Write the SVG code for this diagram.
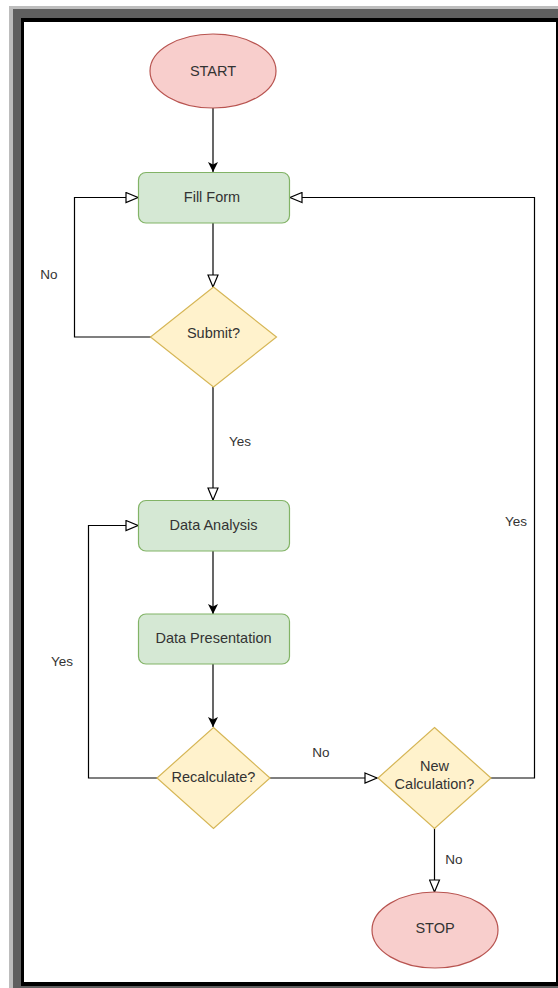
<svg xmlns="http://www.w3.org/2000/svg" width="558" height="988" viewBox="0 0 558 988">
  <style>
    .term { fill: #f8cecc; stroke: #b85450; stroke-width: 1.2; }
    .proc { fill: #d5e8d4; stroke: #82b366; stroke-width: 1.2; }
    .dec { fill: #fff2cc; stroke: #d6b656; stroke-width: 1.2; }
    .lbl { font-family: "Liberation Sans", Arial, sans-serif; font-size: 14.5px; fill: #333333; text-anchor: middle; dominant-baseline: central; }
    .elbl { font-family: "Liberation Sans", Arial, sans-serif; font-size: 13.5px; fill: #333333; text-anchor: middle; dominant-baseline: central; }
    .edge { fill: none; stroke: #000000; stroke-width: 1.2; }
  </style>
  <defs>
    <marker id="filled" viewBox="0 0 10 10" refX="10" refY="5" markerWidth="10" markerHeight="10" markerUnits="userSpaceOnUse" orient="auto">
      <path d="M0,0 L10,5 L0,10 L2.5,5 Z" fill="#000000"/>
    </marker>
    <marker id="open" viewBox="0 0 14 12" refX="13" refY="6" markerWidth="14" markerHeight="12" markerUnits="userSpaceOnUse" orient="auto">
      <path d="M1,1 L13,6 L1,11 Z" fill="#ffffff" stroke="#000000" stroke-width="1.2"/>
    </marker>
  </defs>

  <!-- window frame -->
  <rect x="9" y="6" width="549" height="982" fill="#bdbdbd"/>
  <rect x="13" y="9" width="545" height="979" fill="#5f5f5f"/>
  <rect x="21" y="18" width="537" height="968" fill="#000000"/>
  <rect x="24" y="22" width="532" height="960" fill="#ffffff"/>

  <g id="connectors">
    <path class="edge" d="M213,108 L213,172" marker-end="url(#filled)"/>
    <path class="edge" d="M213,223 L213,287" marker-end="url(#open)"/>
    <path class="edge" d="M151,337 L74.5,337 L74.5,197.5 L138,197.5" marker-end="url(#open)"/>
    <path class="edge" d="M213,387 L213,500" marker-end="url(#open)"/>
    <path class="edge" d="M213,551 L213,614" marker-end="url(#filled)"/>
    <path class="edge" d="M213,664 L213,727" marker-end="url(#filled)"/>
    <path class="edge" d="M157,778 L88.5,778 L88.5,525.5 L138,525.5" marker-end="url(#open)"/>
    <path class="edge" d="M270,778 L377,778" marker-end="url(#open)"/>
    <path class="edge" d="M490,778 L534.5,778 L534.5,197.5 L290,197.5" marker-end="url(#open)"/>
    <path class="edge" d="M434.5,828 L434.5,892" marker-end="url(#open)"/>
    <text class="elbl" x="49" y="274">No</text>
    <text class="elbl" x="240" y="441">Yes</text>
    <text class="elbl" x="62" y="661">Yes</text>
    <text class="elbl" x="321" y="752">No</text>
    <text class="elbl" x="516" y="521">Yes</text>
    <text class="elbl" x="454" y="859">No</text>
  </g>

  <g id="start">
    <ellipse class="term" cx="213" cy="71" rx="63" ry="37"/>
    <text class="lbl" x="213" y="71">START</text>
  </g>
  <g id="fill-form">
    <rect class="proc" x="138.5" y="172.5" width="151" height="50.5" rx="7.5"/>
    <text class="lbl" x="212" y="197">Fill Form</text>
  </g>
  <g id="submit">
    <path class="dec" d="M213.5,287 L276.5,337 L213.5,387 L150.5,337 Z"/>
    <text class="lbl" x="213.5" y="333">Submit?</text>
  </g>
  <g id="data-analysis">
    <rect class="proc" x="138.5" y="500.5" width="151" height="50.5" rx="7.5"/>
    <text class="lbl" x="213.5" y="525">Data Analysis</text>
  </g>
  <g id="data-presentation">
    <rect class="proc" x="138.5" y="614" width="151" height="50" rx="7.5"/>
    <text class="lbl" x="213.5" y="638">Data Presentation</text>
  </g>
  <g id="recalculate">
    <path class="dec" d="M213.5,727.5 L270,778 L213.5,828.5 L157,778 Z"/>
    <text class="lbl" x="213.5" y="777">Recalculate?</text>
  </g>
  <g id="new-calculation">
    <path class="dec" d="M434.5,727.5 L491,778 L434.5,828.5 L378,778 Z"/>
    <text class="lbl" x="434.5" y="766">New</text>
    <text class="lbl" x="434.5" y="784">Calculation?</text>
  </g>
  <g id="stop">
    <ellipse class="term" cx="435" cy="930" rx="63" ry="38"/>
    <text class="lbl" x="435" y="928">STOP</text>
  </g>
</svg>
